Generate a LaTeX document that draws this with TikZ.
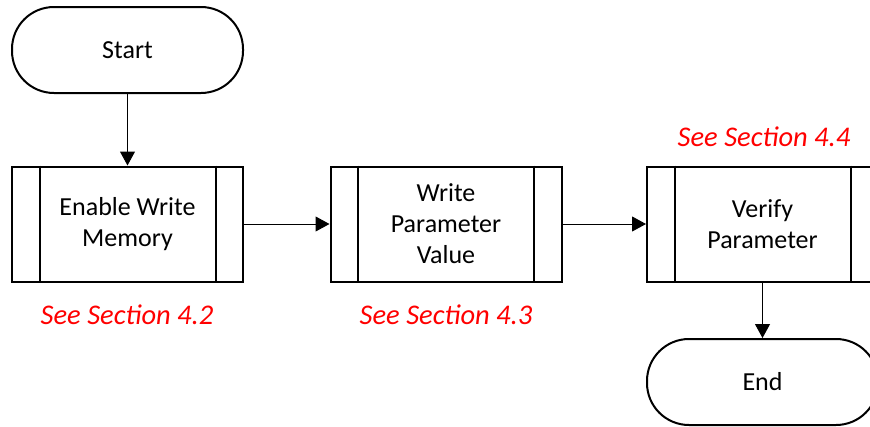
\documentclass[tikz,border=0pt]{standalone}
\usepackage{fontspec}
\setmainfont{Carlito}
\usetikzlibrary{arrows.meta}
\newcommand{\flowfont}{\fontsize{26}{31}\selectfont}
\tikzset{%
  myedge/.style={-{Triangle[length=14pt,width=15pt]}, line width=1pt},
  myterm/.style={draw=black, line width=2pt, rounded corners=42pt,
    minimum width=231pt, minimum height=86pt},
  mybox/.style={draw=black, line width=2pt, align=center,
    minimum width=231pt, minimum height=115pt},
  mynote/.style={text=red, font=\fontsize{28.5}{34}\selectfont\itshape}
}

\begin{document}
\begin{tikzpicture}[x=1pt, y=-1pt, font=\flowfont]
  \useasboundingbox (0,0) rectangle (870,426);

% blocks
\node [myterm] (start) at (127.5,50) {Start};
\node [mybox] (enable) at (127.5,224) {Enable Write\\Memory};
\node [mybox] (write) at (446,224) {Write\\Parameter\\Value};
\node [mybox] (verify) at (762.5,224) {Verify\\Parameter};
\node [myterm] (end) at (762.5,382) {End};

% side bars of the process boxes
\foreach \b in {enable,write,verify} {
  \draw [line width=2pt] ([xshift=28.5pt]\b.north west) -- ([xshift=28.5pt]\b.south west);
  \draw [line width=2pt] ([xshift=-28.5pt]\b.north east) -- ([xshift=-28.5pt]\b.south east);
}

\node [mynote] (sec42) at (127,315) {See Section 4.2};
\node [mynote] (sec43) at (446,315) {See Section 4.3};
\node [mynote] (sec44) at (764,137) {See Section 4.4};

% arrows
\draw [myedge] (start) -- (enable);
\draw [myedge] (enable) -- (write);
\draw [myedge] (write) -- (verify);
\draw [myedge] (verify) -- (end);
\end{tikzpicture}
\end{document}
